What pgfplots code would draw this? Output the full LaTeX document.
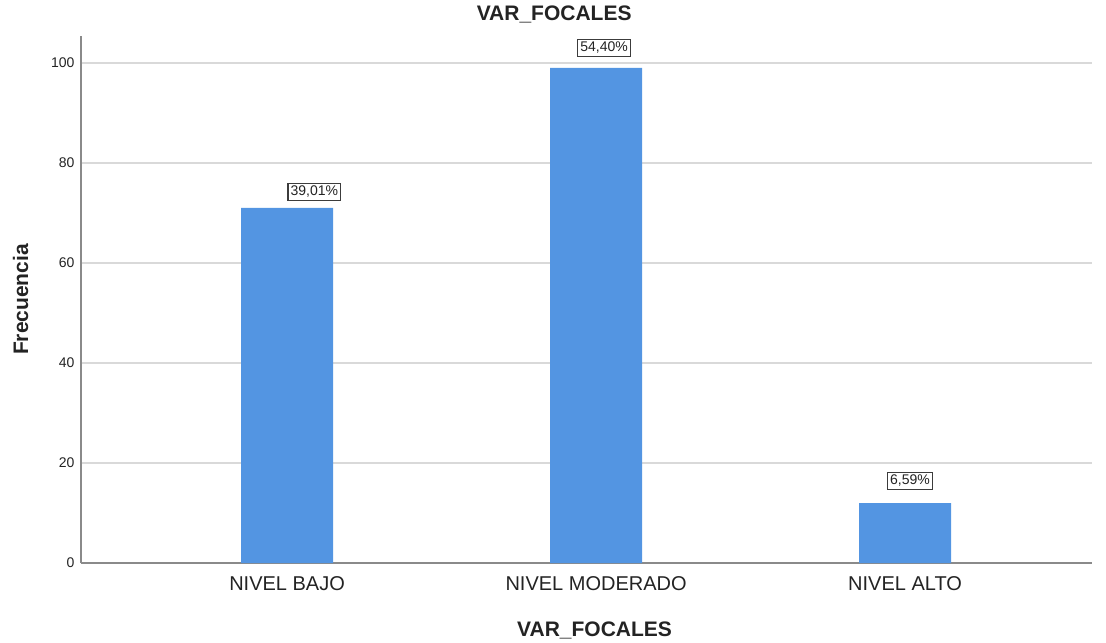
\documentclass[border=0pt]{standalone}
\usepackage{fontspec}
\setmainfont{Liberation Sans}
\usepackage{pgfplots}
\pgfplotsset{compat=1.18}
\definecolor{barblue}{RGB}{83,149,226}
\definecolor{axisgray}{RGB}{138,138,138}
\definecolor{gridgray}{RGB}{217,217,217}
\definecolor{txt}{RGB}{35,35,35}
\definecolor{boxgray}{RGB}{60,60,60}
\begin{document}
\begin{tikzpicture}
\useasboundingbox (-81bp,-80bp) rectangle (1025bp,563bp);
\begin{axis}[
  at={(0,0)}, anchor=south west,
  scale only axis, width=1011bp, height=527bp,
  xmin=-0.667, xmax=2.605, ymin=0, ymax=105.4,
  clip=false,
  axis x line*=bottom, axis y line*=left,
  axis line style={axisgray, line width=1.6bp},
  ytick={0,20,40,60,80,100},
  xtick={0,1,2},
  xticklabels={NIVEL BAJO, NIVEL MODERADO, NIVEL ALTO},
  major tick length=0pt,
  ymajorgrids, grid style={gridgray, line width=1.6bp},
  /pgf/number format/assume math mode=true,
  yticklabel style={font=\fontsize{14bp}{16bp}\selectfont, text=txt, xshift=-3bp},
  xticklabel style={font=\fontsize{20bp}{24bp}\selectfont, text=txt, yshift=-10bp},
  title={VAR\_FOCALES},
  title style={at={(axis description cs:0.468,1.019)}, anchor=base, font=\bfseries\fontsize{21bp}{25bp}\selectfont, text=txt},
  xlabel={VAR\_FOCALES},
  xlabel style={at={(axis description cs:0.508,-0.1404)}, anchor=base, font=\bfseries\fontsize{21bp}{25bp}\selectfont, text=txt},
  ylabel={Frecuencia},
  ylabel style={at={(axis description cs:-0.0524,0.5)}, anchor=base, font=\bfseries\fontsize{21bp}{25bp}\selectfont, text=txt},
]
\addplot[ybar, bar width=0.298, fill=barblue, draw=none] coordinates {(0,71) (1,99) (2,12)};
\addplot[only marks, mark=*, mark size=0.01pt, mark options={draw=white, fill=white},
  nodes near coords, point meta=explicit symbolic,
  every node near coord/.style={anchor=center, draw=boxgray, line width=1.2bp, fill=white,
    opacity=1, text opacity=1,
    inner sep=2.6bp, text=txt, font=\fontsize{14bp}{16bp}\selectfont}]
  coordinates {(0.088,74.2) [39,01\%] (1.026,103.0) [54,40\%] (2.016,16.4) [6,59\%]};
\end{axis}
\end{tikzpicture}
\end{document}
